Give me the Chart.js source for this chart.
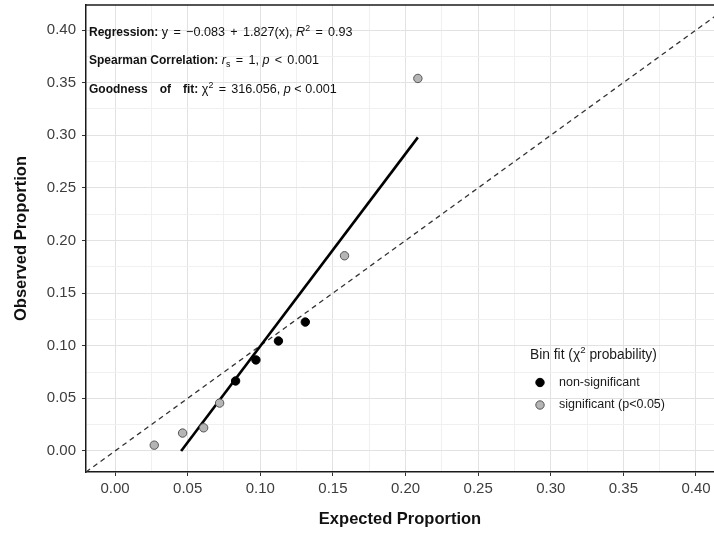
<!DOCTYPE html>
<html lang="en">
<head>
    <meta charset="UTF-8">
    <title>Observed vs Expected Proportion</title>
    <script src="https://cdn.jsdelivr.net/npm/chart.js"></script>
    <style>
        html, body {
            margin: 0;
            padding: 0;
            overflow: hidden;
            background-color: #ffffff;
        }
        canvas {
            display: block;
        }
    </style>
</head>
<body>
    <canvas id="fitChart" width="714" height="533"></canvas>

    <script>
        // bins: expected vs observed proportion
        const expectedNonSig = [0.083, 0.097, 0.1125, 0.131];
        const observedNonSig = [0.0665, 0.0865, 0.1045, 0.1225];
        const expectedSig = [0.027, 0.0465, 0.061, 0.072, 0.158, 0.2085];
        const observedSig = [0.0055, 0.017, 0.022, 0.0455, 0.1855, 0.354];

        // fitted regression line ends and the 1:1 reference line
        const regressionX = [0.0455, 0.2085];
        const regressionY = [0.0, 0.298];
        const identityX = [-0.02, 0.43];
        const identityY = [-0.02, 0.43];

        const majorTicks = [0, 0.05, 0.10, 0.15, 0.20, 0.25, 0.30, 0.35, 0.40];
        const minorTicks = [0.025, 0.075, 0.125, 0.175, 0.225, 0.275, 0.325, 0.375];
        const tickLabels = ['0.00', '0.05', '0.10', '0.15', '0.20', '0.25', '0.30', '0.35', '0.40'];

        const legendTitle = 'Bin fit';
        const legendNonSig = 'non-significant';
        const legendSig = 'significant (p<0.05)';

        const FONT = '"Liberation Sans", Arial, sans-serif';

        function toPoints(xs, ys) {
            return xs.map((x, i) => ({ x: x, y: ys[i] }));
        }

        function isMajor(v) {
            return majorTicks.some(m => Math.abs(m - v) < 1e-6);
        }

        function labelFor(v) {
            const i = majorTicks.findIndex(m => Math.abs(m - v) < 1e-6);
            return i >= 0 ? tickLabels[i] : '';
        }

        function buildTicks(scale) {
            const all = majorTicks.concat(minorTicks).sort((a, b) => a - b);
            scale.ticks = all.filter(v => v >= scale.min && v <= scale.max).map(v => ({ value: v }));
        }

        // draws a list of styled text runs starting at x
        function drawRuns(ctx, runs, x, y, size) {
            let cx = x;
            runs.forEach(r => {
                if (r.gap) { cx += r.gap; return; }
                let s = r.b ? 12 : size;
                let dy = 0;
                if (r.sup) { s = size * 0.7; dy = -size * 0.42; }
                if (r.sub) { s = size * 0.7; dy = size * 0.25; }
                ctx.font = (r.i ? 'italic ' : '') + (r.b ? 'bold ' : '') + s + 'px ' + FONT;
                ctx.fillText(r.t, cx, y + dy);
                cx += ctx.measureText(r.t).width;
            });
            return cx;
        }

        const G = { gap: 1.8 };
        const annotationLines = [
            [{ t: 'Regression:', b: true }, { t: ' y ' }, G, { t: '=' }, G, { t: ' \u22120.083 ' }, G, { t: '+' }, G, { t: ' 1.827(x), ' },
             { t: 'R', i: true }, { t: '2', sup: true }, { t: ' ' }, G, { t: '=' }, G, { t: ' 0.93' }],
            [{ t: 'Spearman Correlation:', b: true }, { t: ' ' }, { t: 'r', i: true }, { t: 's', sub: true }, { t: ' ' }, G, { t: '=' }, G,
             { t: ' 1, ' }, { t: 'p', i: true }, { t: ' ' }, G, { t: '<' }, G, { t: ' 0.001' }],
            [{ t: 'Goodness', b: true }, { gap: 12 }, { t: 'of', b: true }, { gap: 12 }, { t: 'fit:', b: true }, { t: ' \u03C7' }, { t: '2', sup: true },
             { t: ' ' }, G, { t: '=' }, G, { t: ' 316.056, ' }, { t: 'p', i: true }, { t: ' ' }, { t: '<' }, { t: ' 0.001' }]
        ];

        const overlayPlugin = {
            id: 'overlay',
            afterDraw(chart) {
                const ctx = chart.ctx;
                const area = chart.chartArea;
                ctx.save();

                // top border of the panel
                ctx.strokeStyle = '#1a1a1a';
                ctx.lineWidth = 1.5;
                ctx.beginPath();
                ctx.moveTo(area.left, area.top);
                ctx.lineTo(area.right, area.top);
                ctx.stroke();

                // statistics text
                ctx.fillStyle = '#111111';
                ctx.textBaseline = 'alphabetic';
                ctx.textAlign = 'left';
                const baselines = [36, 64, 93];
                annotationLines.forEach((runs, i) => drawRuns(ctx, runs, 89, baselines[i], 12.6));

                // legend
                ctx.fillStyle = '#1a1a1a';
                const legendRuns = [{ t: legendTitle + ' (' }, { t: '\u03C7' }, { t: '2', sup: true }, { t: ' probability)' }];
                drawRuns(ctx, legendRuns, 530, 359, 13.8);

                const items = [
                    { ds: chart.data.datasets[0], label: legendNonSig, y: 382.5 },
                    { ds: chart.data.datasets[1], label: legendSig, y: 405 }
                ];
                items.forEach(it => {
                    ctx.beginPath();
                    ctx.arc(540, it.y, it.ds.pointRadius, 0, Math.PI * 2);
                    ctx.fillStyle = it.ds.pointBackgroundColor;
                    ctx.fill();
                    ctx.lineWidth = it.ds.pointBorderWidth;
                    ctx.strokeStyle = it.ds.pointBorderColor;
                    ctx.stroke();
                    ctx.fillStyle = '#1a1a1a';
                    ctx.font = '12.5px ' + FONT;
                    ctx.textBaseline = 'middle';
                    ctx.fillText(it.label, 559, it.y);
                    ctx.textBaseline = 'alphabetic';
                });

                ctx.restore();
            }
        };

        function noPadding(s) {
            s.paddingLeft = 0;
            s.paddingRight = 0;
            s.paddingTop = 0;
            s.paddingBottom = 0;
        }

        const axisCommon = {
            type: 'linear',
            min: -0.02,
            afterBuildTicks: buildTicks,
            border: { display: true, color: '#1a1a1a', width: 1.5 },
            grid: {
                color: c => isMajor(c.tick.value) ? '#e2e2e2' : '#f0f0f0',
                lineWidth: 1,
                tickLength: 4,
                tickColor: c => isMajor(c.tick.value) ? '#333333' : 'rgba(0,0,0,0)'
            },
            ticks: {
                autoSkip: false,
                maxRotation: 0,
                color: '#3d3d3d',
                font: { family: FONT, size: 15 },
                callback: v => labelFor(v)
            }
        };

        const ctx = document.getElementById('fitChart').getContext('2d');
        const fitChart = new Chart(ctx, {
            type: 'scatter',
            data: {
                datasets: [
                    {
                        label: legendNonSig,
                        data: toPoints(expectedNonSig, observedNonSig),
                        pointRadius: 4.2,
                        pointBackgroundColor: '#000000',
                        pointBorderColor: '#000000',
                        pointBorderWidth: 1,
                        order: 1
                    },
                    {
                        label: legendSig,
                        data: toPoints(expectedSig, observedSig),
                        pointRadius: 4.2,
                        pointBackgroundColor: '#b5b5b5',
                        pointBorderColor: '#555555',
                        pointBorderWidth: 1,
                        order: 1
                    },
                    {
                        type: 'line',
                        label: 'regression',
                        data: toPoints(regressionX, regressionY),
                        borderColor: '#000000',
                        borderWidth: 2.6,
                        pointRadius: 0,
                        fill: false,
                        order: 2
                    },
                    {
                        type: 'line',
                        label: 'identity',
                        data: toPoints(identityX, identityY),
                        borderColor: '#333333',
                        borderWidth: 1.3,
                        borderDash: [5, 4],
                        pointRadius: 0,
                        fill: false,
                        order: 3
                    }
                ]
            },
            options: {
                responsive: false,
                animation: false,
                layout: { autoPadding: false, padding: { top: 5, right: 0, bottom: 0, left: 0 } },
                plugins: {
                    legend: { display: false },
                    tooltip: { enabled: false }
                },
                scales: {
                    x: Object.assign({}, axisCommon, {
                        max: 0.4124,
                        afterFit: s => { s.height = 61; noPadding(s); },
                        ticks: Object.assign({}, axisCommon.ticks, { padding: 4 }),
                        title: {
                            display: true,
                            text: 'Expected Proportion',
                            color: '#111111',
                            font: { family: FONT, size: 16.5, weight: 'bold' },
                            padding: { top: 0, bottom: 4 }
                        }
                    }),
                    y: Object.assign({}, axisCommon, {
                        max: 0.4238,
                        afterFit: s => { s.width = 86; noPadding(s); },
                        ticks: Object.assign({}, axisCommon.ticks, { padding: 6 }),
                        title: {
                            display: true,
                            text: 'Observed Proportion',
                            color: '#111111',
                            font: { family: FONT, size: 16.5, weight: 'bold' },
                            padding: { top: 12, bottom: 0 }
                        }
                    })
                }
            },
            plugins: [overlayPlugin]
        });
    </script>
</body>
</html>
